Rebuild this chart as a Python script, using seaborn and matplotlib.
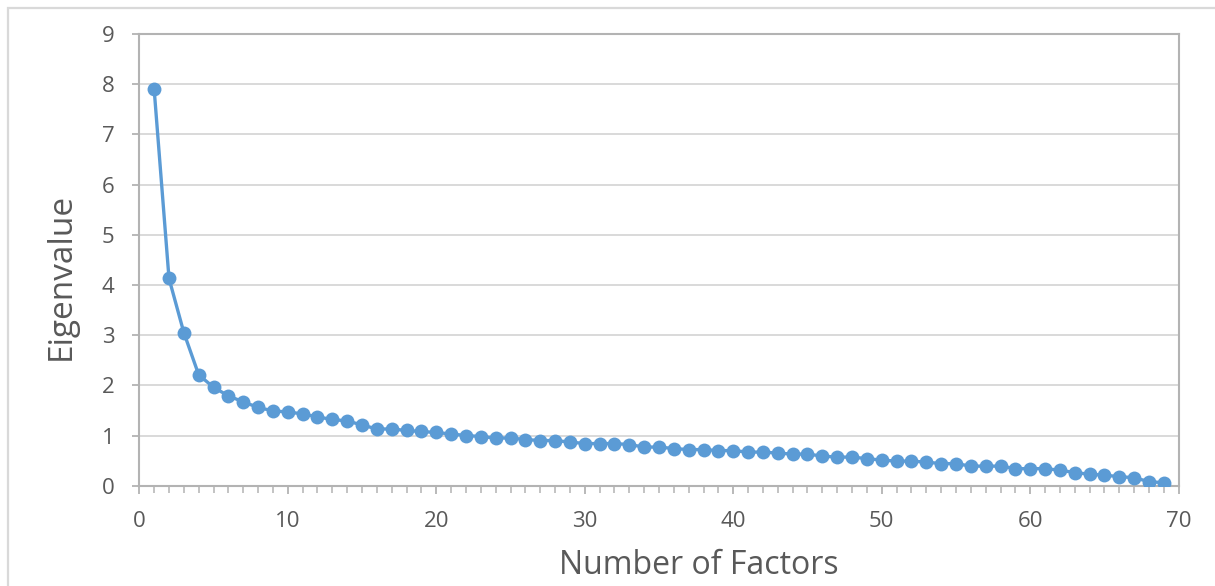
import numpy as np
import pandas as pd
import matplotlib
matplotlib.use("Agg")
import matplotlib.pyplot as plt
import seaborn as sns
from matplotlib.ticker import MultipleLocator
from matplotlib.patches import Rectangle

factors = list(range(1, 70))
eigenvalues = [
    7.90, 4.13, 3.05, 2.21, 1.96, 1.79, 1.67, 1.56, 1.49, 1.47,
    1.43, 1.37, 1.32, 1.29, 1.21, 1.13, 1.13, 1.10, 1.08, 1.06,
    1.03, 1.00, 0.98, 0.95, 0.95, 0.92, 0.90, 0.90, 0.87, 0.84,
    0.84, 0.84, 0.82, 0.77, 0.77, 0.74, 0.72, 0.72, 0.70, 0.70,
    0.67, 0.67, 0.65, 0.63, 0.63, 0.59, 0.57, 0.57, 0.54, 0.51,
    0.49, 0.49, 0.47, 0.44, 0.44, 0.39, 0.39, 0.39, 0.34, 0.34,
    0.34, 0.31, 0.26, 0.23, 0.21, 0.18, 0.16, 0.08, 0.06,
]
x_ticks = [0, 10, 20, 30, 40, 50, 60, 70]
y_ticks = [0, 1, 2, 3, 4, 5, 6, 7, 8, 9]
x_label = "Number of Factors"
y_label = "Eigenvalue"

df = pd.DataFrame({"factor": factors, "eigen": eigenvalues})

sns.set_theme(style="white")
plt.rcParams["font.family"] = ["Open Sans", "DejaVu Sans"]

W, H = 1215, 586
fig = plt.figure(figsize=(W / 100, H / 100), dpi=100)
left, right, top, bottom = 139.3, 1178.7, 34.0, 485.7
ax = fig.add_axes([left / W, 1 - bottom / H, (right - left) / W, (bottom - top) / H])

line_color = "#5B9BD5"
sns.lineplot(data=df, x="factor", y="eigen", ax=ax, color=line_color,
             linewidth=2.4, marker="o", markersize=10, markeredgewidth=0,
             markerfacecolor=line_color, zorder=3)

ax.set_xlim(0, 70)
ax.set_ylim(0, 9)
ax.set_xticks(x_ticks)
ax.set_yticks(y_ticks)
ax.xaxis.set_minor_locator(MultipleLocator(1))
ax.grid(axis="y", color="#D9D9D9", linewidth=1.4, zorder=0)
ax.set_axisbelow(True)

for side in ["left", "bottom", "right", "top"]:
    ax.spines[side].set_visible(True)
    ax.spines[side].set_color("#B3B3B3")
    ax.spines[side].set_linewidth(1.5)

tick_col = "#B3B3B3"
ax.tick_params(axis="x", which="major", direction="out", length=6, width=1.3,
               color=tick_col, labelsize=16, labelcolor="#595959", pad=12,
               bottom=True)
ax.tick_params(axis="x", which="minor", direction="out", length=5, width=1.1,
               color=tick_col, bottom=True)
ax.tick_params(axis="y", which="major", direction="out", length=5, width=1.3,
               color=tick_col, labelsize=16, labelcolor="#595959", pad=13,
               left=True)

ax.set_xlabel(x_label, fontsize=23, color="#595959")
ax.set_ylabel(y_label, fontsize=24, color="#595959")
ax.xaxis.set_label_coords((699 - left) / (right - left), -(566 - bottom) / (bottom - top))
ax.yaxis.set_label_coords(-(left - 61) / (right - left), (bottom - 276) / (bottom - top))
ax.xaxis.label.set_verticalalignment("center")
ax.yaxis.label.set_verticalalignment("center")

fig.patches.append(Rectangle((8 / W, -0.05), 1.05, 1.05 - 8 / H,
                             transform=fig.transFigure, fill=False,
                             edgecolor="#D9D9D9", linewidth=1.6))

fig.savefig("out.png", dpi=100, facecolor="white")
